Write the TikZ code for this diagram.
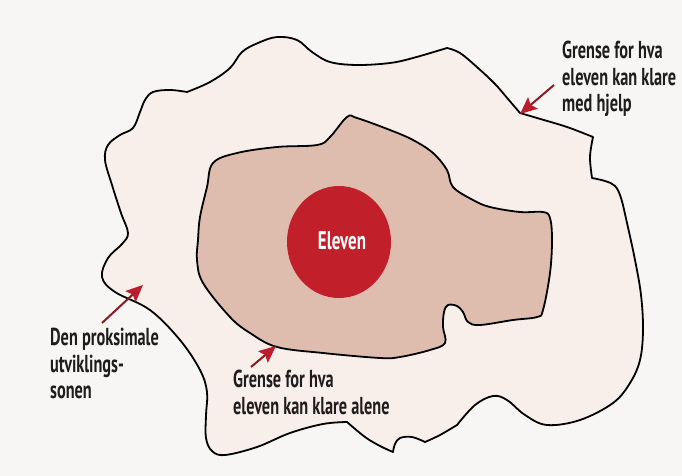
\documentclass[tikz,border=0pt]{standalone}
\usepackage{fontspec}
\setmainfont{PT Sans}[FakeStretch=0.665]
\usetikzlibrary{arrows.meta,shapes.geometric}
\definecolor{pagebg}{HTML}{F7F6F4}
\definecolor{outerfill}{HTML}{F9EFEA}
\definecolor{innerfill}{HTML}{DEBDAF}
\definecolor{coreRed}{HTML}{C1202B}
\definecolor{arrowLine}{HTML}{8A1A22}
\definecolor{arrowHead}{HTML}{BA1E2C}
\definecolor{ink}{HTML}{1E1C1C}
\tikzset{
  blobline/.style={draw=black, line width=1.8pt, line join=round},
  label/.style={font=\fontsize{24.5}{26.5}\bfseries\selectfont, align=left, inner sep=0pt, anchor=north west, text=ink},
  pointer/.style={draw=arrowLine, line width=2pt, -{Stealth[length=17pt,width=15pt,inset=3pt,fill=arrowHead,color=arrowHead]}},
}
\begin{document}
\begin{tikzpicture}[x=1pt,y=-1pt]
\useasboundingbox (0,0) rectangle (682,476);
\fill[pagebg] (0,0) rectangle (682,476);
% outer blob
\path[blobline, fill=outerfill]
  plot[smooth,tension=0.6] coordinates {(187,92)(210,82)(230,68)(242,52)(258,43)(277,37)(297,40)(312,52)(330,62)(357,65)(390,63)(413,58)(447,48)}
  -- plot[smooth,tension=0.6] coordinates {(447,48)(460,53)(478,68)(495,84)(508,99)(520,113)}
  -- plot[smooth,tension=0.6] coordinates {(520,113)(537,118)(567,127)(593,137)}
  -- plot[smooth,tension=0.6] coordinates {(593,137)(590,157)(592,178)}
  -- plot[smooth,tension=0.6] coordinates {(592,178)(605,181)(615,186)(621,198)(627,223)(635,260)(641,295)(643,330)(640,360)(630,383)(613,403)(580,420)(547,425)(525,415)(507,400)(493,396)(475,405)(457,425)}
  -- plot[smooth,tension=0.6] coordinates {(457,425)(440,435)(425,442)}
  -- plot[smooth,tension=0.6] coordinates {(425,442)(412,437)(400,438)(395,444)(393,452)}
  -- plot[smooth,tension=0.6] coordinates {(393,452)(380,446)(365,437)(347,422)}
  -- plot[smooth,tension=0.6] coordinates {(347,422)(323,424)(290,433)(257,447)(225,455)(212,451)(206,438)(206,415)(207,392)(200,370)(180,340)(150,310)(115,292)(102,277)(108,258)(122,244)(128,233)(121,213)(112,185)(105,160)(108,145)(120,135)(133,128)(140,112)(145,100)(153,92)(170,90)(187,92)}
  -- cycle;
% inner blob
\path[blobline, fill=innerfill]
  plot[smooth cycle,tension=0.6] coordinates {(213,163)(237,153)(277,147)(317,145)(330,137)(347,117)(357,118)(390,130)(413,140)(433,153)(447,170)(453,187)(473,200)(490,207)(520,212)(543,212)(550,218)(552,240)(550,273)(543,310)(537,317)(513,320)(480,325)(468,322)(463,312)(457,306)(448,305)(444,312)(443,327)(445,343)(430,350)(400,357)(380,358)(323,353)(277,347)(250,333)(230,317)(203,283)(197,260)(198,240)(200,217)(207,187)};
% core
\node[ellipse, fill=coreRed, minimum width=104pt, minimum height=112pt, inner sep=0pt] (core) at (339,242) {};
\node[font=\fontsize{25.5}{28}\bfseries\selectfont, text=white, inner sep=0pt] (coretext) at (342,241) {Eleven};
% labels
\node[label] (help) at (562,41) {Grense for hva\\eleven kan klare\\med hjelp};
\node[label] (zpd) at (50,328) {Den proksimale\\utviklings-\\sonen};
\node[label] (alone) at (233,370) {Grense for hva\\eleven kan klare alene};
% pointer coordinates
\coordinate (helpTail) at (554,85);
\coordinate (helpTip) at (520,114);
\coordinate (zpdTail) at (102,323);
\coordinate (zpdTip) at (143,285);
\coordinate (aloneTail) at (251,367);
\coordinate (aloneTip) at (276,346);
\draw[pointer] (helpTail) -- (helpTip);
\draw[pointer] (zpdTail) -- (zpdTip);
\draw[pointer] (aloneTail) -- (aloneTip);
\end{tikzpicture}
\end{document}
